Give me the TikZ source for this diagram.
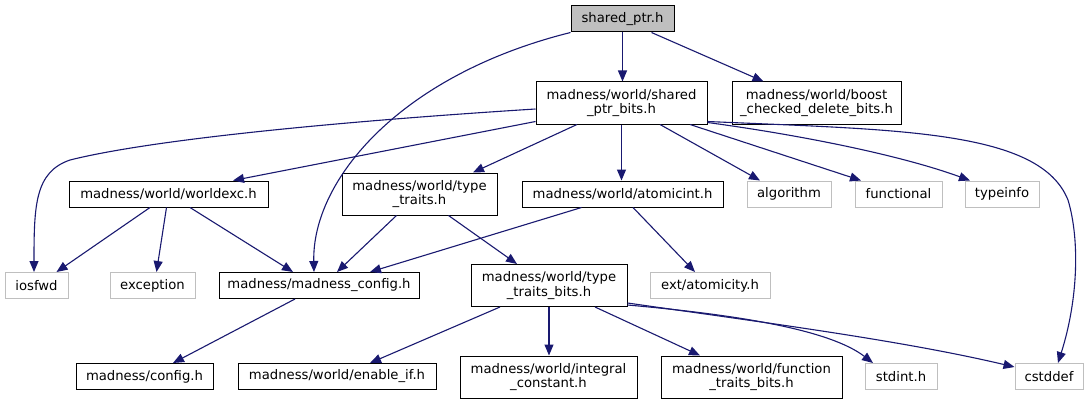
\documentclass[tikz,border=0pt]{standalone}
\usepackage{fontspec}
\setmainfont{DejaVu Sans}
\usetikzlibrary{arrows.meta}
\definecolor{edgec}{HTML}{191970}
\definecolor{grayb}{HTML}{BFBFBF}
\begin{document}
\begin{tikzpicture}[x=1pt,y=-1pt,
  file/.style={draw=black, line width=1pt, rectangle, inner sep=0pt, align=center,
    font=\fontsize{13.2}{14.8}\selectfont, minimum height=26pt},
  twoline/.style={minimum height=42pt},
  sys/.style={file, draw=grayb},
  root/.style={file, fill=grayb},
  edge/.style={draw=edgec, line width=1.1pt, -{Triangle[length=11pt,width=9pt]}}]
\fill[white] (0,0) rectangle (1088,404);
\useasboundingbox (0,0) rectangle (1088,404);

% nodes
\node[root, minimum width=103pt] (root) at (622.5,19) {shared\_ptr.h};
\node[file, twoline, minimum width=171pt] (bits) at (621.5,103) {madness/world/shared\\\_ptr\_bits.h};
\node[file, twoline, minimum width=169pt] (boost) at (816.5,103) {madness/world/boost\\\_checked\_delete\_bits.h};
\node[file, minimum width=199pt] (worldexc) at (168.5,194) {madness/world/worldexc.h};
\node[file, twoline, minimum width=155pt] (tt) at (419.5,194) {madness/world/type\\\_traits.h};
\node[file, minimum width=201pt] (atomicint) at (622.5,194) {madness/world/atomicint.h};
\node[sys, minimum width=84pt] (algorithm) at (789,194) {algorithm};
\node[sys, minimum width=87pt] (functional) at (898.5,194) {functional};
\node[sys, minimum width=74pt] (typeinfo) at (1002,194) {typeinfo};
\node[sys, minimum width=63pt] (iosfwd) at (36.5,285.5) {iosfwd};
\node[sys, minimum width=85pt] (exception) at (152.5,285.5) {exception};
\node[file, minimum width=200pt] (mconfig) at (319,285.5) {madness/madness\_config.h};
\node[file, twoline, minimum width=156pt] (ttbits) at (549,285.5) {madness/world/type\\\_traits\_bits.h};
\node[sys, minimum width=120pt] (atomicity) at (710,285.5) {ext/atomicity.h};
\node[file, minimum width=137pt] (config) at (144.5,376.5) {madness/config.h};
\node[file, minimum width=198pt] (enableif) at (337,376.5) {madness/world/enable\_if.h};
\node[file, twoline, minimum width=177pt] (integral) at (548.5,377) {madness/world/integral\\\_constant.h};
\node[file, twoline, minimum width=181pt] (function) at (751.5,377) {madness/world/function\\\_traits\_bits.h};
\node[sys, minimum width=72pt] (stdint) at (901,376.5) {stdint.h};
\node[sys, minimum width=68pt] (cstddef) at (1049,376.5) {cstddef};

% edges from shared_ptr.h
\draw[edge] (root.south) -- (root.south |- bits.north);
\draw[edge] ([xshift=29pt]root.south) -- ([xshift=-53pt]boost.north);
\draw[edge] (root.south west) .. controls (400,75) and (312,180) .. ([xshift=-5pt]mconfig.north);

% edges from shared_ptr_bits.h
\draw[edge] ([yshift=-6pt]bits.west) .. controls (330,122) and (150,140) .. (70,160)
  .. controls (35,172) and (34,205) .. ([xshift=-2.5pt]iosfwd.north);
\draw[edge] ([yshift=3pt]bits.south west) -- ([xshift=64.5pt]worldexc.north);
\draw[edge] ([xshift=-44.5pt]bits.south) -- ([xshift=53.5pt]tt.north);
\draw[edge] (bits.south) -- (bits.south |- atomicint.north);
\draw[edge] ([xshift=38.5pt]bits.south) -- ([xshift=-29pt]algorithm.north);
\draw[edge] ([xshift=68.5pt]bits.south) -- ([xshift=-37.5pt]functional.north);
\draw[edge] ([yshift=2pt]bits.south east) .. controls (800,135) and (900,155) .. ([xshift=-32pt]typeinfo.north);
\draw[edge] ([yshift=3pt]bits.south east) .. controls (900,130) and (1040,130) .. (1068,200)
  .. controls (1080,240) and (1078,300) .. ([xshift=9pt]cstddef.north);

% edges from worldexc.h
\draw[edge] ([xshift=-18.5pt]worldexc.south) -- ([xshift=20pt]iosfwd.north);
\draw[edge] ([xshift=-2pt]worldexc.south) -- ([xshift=4pt]exception.north);
\draw[edge] ([xshift=21.5pt]worldexc.south) -- ([xshift=-26pt]mconfig.north);

% edges from type_traits.h
\draw[edge] ([xshift=-23pt]tt.south) -- ([xshift=18pt]mconfig.north);
\draw[edge] ([xshift=29pt]tt.south) -- ([xshift=-32pt]ttbits.north);

% edges from atomicint.h
\draw[edge] ([xshift=-41pt]atomicint.south) -- ([xshift=51pt]mconfig.north);
\draw[edge] ([xshift=10.5pt]atomicint.south) -- ([xshift=-15pt]atomicity.north);

% madness_config.h
\draw[edge] ([xshift=-24pt]mconfig.south) -- ([xshift=28.5pt]config.north);

% edges from type_traits_bits.h
\draw[edge] ([xshift=-49pt]ttbits.south) -- ([xshift=33pt]enableif.north);
\draw[edge] (ttbits.south) -- (ttbits.south |- integral.north);
\draw[edge] ([xshift=46pt]ttbits.south) -- ([xshift=-51.5pt]function.north);
\draw[edge] ([yshift=2pt]ttbits.south east) .. controls (740,315) and (830,330) .. ([xshift=-28pt]stdint.north);
\draw[edge] ([yshift=4pt]ttbits.south east) .. controls (760,322) and (900,340) .. ([yshift=9.5pt]cstddef.west);
\end{tikzpicture}
\end{document}
